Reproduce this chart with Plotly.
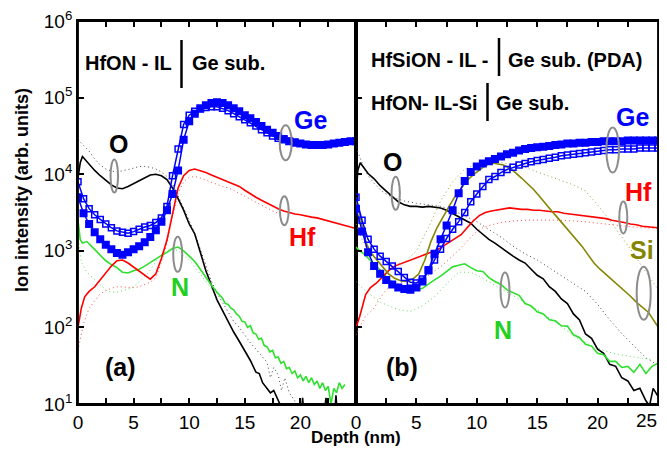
import plotly.graph_objects as go

# ---------------- data : panel (a) HfON - IL | Ge sub. ----------------
DEPTH_A_GE = [0, 0.5, 1, 1.5, 2, 2.5, 3, 3.5, 4, 4.5, 5, 5.5, 6, 6.5, 7, 7.5, 8, 8.5, 9, 9.5,
              10, 10.5, 11, 11.5, 12, 12.5, 13, 13.5, 14, 14.5, 15, 15.5, 16, 16.5, 17, 17.5,
              18, 18.5, 19, 19.5, 20, 20.5, 21, 21.5, 22, 22.5, 23, 23.5, 24, 24.5, 25]
GE_FILLED_A = [5000, 3090, 2240, 1740, 1410, 1200, 1050, 933, 891, 955, 1050, 1150, 1290, 1510,
               1860, 2400, 3390, 5500, 11200, 28200, 49000, 61700, 72400, 79400, 85100, 87100,
               85100, 79400, 72400, 66100, 58900, 53700, 47900, 42700, 38000, 34700, 31600,
               28800, 26900, 25700, 25100, 24500, 24000, 24000, 24000, 24500, 25100, 25700,
               26300, 26900, 26900]
GE_OPEN_A = [7940, 4790, 3550, 2950, 2570, 2240, 2000, 1820, 1740, 1700, 1780, 1910, 2040, 2140,
             2340, 2690, 3800, 9550, 21400, 44700, 58900, 66100, 70800, 74100, 75900, 75900,
             72400, 67600, 61700, 56200, 51300, 46800, 42700, 38000, 34700, 31600, 29500,
             28200, 26900, 26300]

O_SOLID_A_X = [0, 0.2, 0.4, 0.7, 1.0, 1.5, 2, 2.5, 3, 3.5, 4, 4.5, 5, 5.5, 6, 6.5, 7, 7.5, 8,
               8.5, 9, 9.5, 10, 10.5, 11, 11.5, 12, 12.5, 13, 13.5, 14, 14.5, 15, 15.5, 16,
               16.3, 16.6, 17.0, 17.3, 17.6, 18.0, 18.3, 18.6, 19.0, 20.0, 20.2, 20.4, 21.0,
               22.0, 22.3, 22.6, 23.0, 23.2, 23.4, 24.0, 25.0]
O_SOLID_A = [8900, 14100, 17000, 15100, 13200, 11200, 9550, 8320, 7240, 6610, 6460, 6920, 7590,
             8320, 9120, 9770, 10000, 9550, 8510, 6610, 4790, 3390, 2240, 1660, 955, 550, 355,
             229, 166, 120, 87, 66, 50, 37, 26, 25, 19, 16, 14, 15, 11, 9, 6, 5, 5, 12, 5, 5,
             5, 12, 5, 5, 13, 5, 5, 5]
O_DOT_A_X = [0, 0.5, 1, 1.5, 2, 2.5, 3, 3.5, 4, 4.5, 5, 5.5, 6, 6.5, 7, 7.5, 8, 8.5, 9, 9.5,
             10, 10.5, 11, 11.5, 12, 12.5, 13, 13.5, 14, 14.5, 15, 15.5, 16, 16.5, 17, 17.3,
             17.6, 18, 18.3, 18.6, 19, 19.5, 20]
O_DOT_A = [28200, 24000, 20000, 15800, 13200, 11700, 11000, 10700, 11000, 11500, 12000, 12600,
           12600, 12300, 11700, 10700, 9330, 7410, 5250, 3550, 2400, 1700, 1050, 630, 400, 280,
           214, 158, 120, 100, 79, 63, 52, 42, 35, 22, 30, 24, 15, 22, 14, 11, 8]

HF_SOLID_A_X = [0, 0.3, 0.6, 1.0, 1.5, 2, 2.5, 3, 3.5, 4, 4.5, 5, 5.5, 6, 6.5, 7, 7.5, 8, 8.5,
                9, 9.5, 10, 10.5, 11, 11.5, 12, 12.5, 13, 13.5, 14, 14.5, 15, 15.5, 16, 16.5,
                17, 17.5, 18, 18.5, 19, 19.5, 20, 20.5, 21, 21.5, 22, 22.5, 23, 23.5, 24, 24.5, 25]
HF_SOLID_A = [100, 178, 251, 295, 339, 417, 525, 631, 741, 759, 692, 617, 537, 479, 427, 501,
              794, 1380, 3160, 6610, 9550, 11200, 11700, 11200, 10500, 9770, 9120, 8510, 8130,
              7590, 6920, 6170, 5500, 5010, 4570, 4170, 3800, 3550, 3310, 3160, 3020, 2950,
              2820, 2750, 2690, 2570, 2450, 2340, 2240, 2140, 2040, 1950]
HF_DOT_A_X = [0, 0.5, 1, 1.5, 2, 2.5, 3, 3.5, 4, 4.5, 5, 5.5, 6, 6.5, 7, 7.5, 8, 8.5, 9, 9.5,
              10, 10.5, 11, 11.5, 12, 12.5, 13, 13.5, 14, 14.5, 15, 15.5, 16, 16.5, 17, 17.5,
              18, 18.5]
HF_DOT_A = [50, 112, 178, 224, 275, 302, 324, 339, 339, 331, 331, 339, 363, 389, 447, 708, 1260,
            2820, 5620, 7940, 9120, 9330, 8910, 8320, 7760, 7240, 6920, 6610, 6170, 5620, 5130,
            4680, 4270, 3890, 3550, 3310, 3090, 2950]

N_SOLID_A_X = [0, 0.2, 0.4, 0.8, 1.2, 1.6, 2.0, 2.5, 3.0, 3.5, 4.0, 4.5, 5.0, 5.5, 6.0, 6.5,
               7.0, 7.5, 8.0, 8.5, 9.0, 9.5, 10.0, 10.5, 11.0, 11.5, 12.0, 12.5, 13.0, 13.25,
               13.5, 13.75, 14.0, 14.25, 14.5, 14.75, 15.0, 15.25, 15.5, 15.75, 16.0, 16.25,
               16.5, 16.75, 17.0, 17.25, 17.5, 17.75, 18.0, 18.25, 18.5, 18.75, 19.0, 19.25,
               19.5, 19.75, 20.0, 20.25, 20.5, 20.75, 21.0, 21.25, 21.5, 21.75, 22.0, 22.25,
               22.5, 22.75, 23.0, 23.25, 23.5, 23.75, 24.0]
N_SOLID_A = [2510, 1410, 1260, 1320, 1150, 1000, 891, 741, 661, 603, 525, 513, 550, 575, 631,
             708, 776, 871, 955, 1070, 1120, 1000, 851, 724, 575, 447, 355, 288, 240, 205, 200,
             178, 170, 150, 140, 120, 118, 100, 105, 85, 82, 70, 72, 58, 56, 48, 50, 40, 41,
             34, 36, 29, 30, 25, 27, 22, 24, 20, 23, 19, 22, 18, 20, 16, 19, 15, 17, 10, 16,
             14, 19, 16, 18]
N_DOT_A_X = [0, 0.3, 0.8, 1.5, 2.0, 2.5, 3.0, 3.5, 4.0, 4.5, 5.0, 5.5, 6.0, 6.5, 7.0, 7.5, 8.0,
             8.5, 9.0, 10, 11, 12]
N_DOT_A = [1580, 708, 525, 417, 355, 309, 288, 288, 302, 316, 339, 389, 457, 562, 724, 891,
           1000, 1050, 1000, 760, 500, 320]

# ---------------- data : panel (b) HfSiON-IL-|Ge (PDA) and HfON-IL-Si|Ge ----------------
DEPTH_B_GE = DEPTH_A_GE
GE_FILLED_B = [3550, 1780, 955, 631, 501, 417, 363, 331, 316, 309, 331, 398, 562, 912, 1410,
               2140, 3390, 5620, 8130, 10700, 12600, 13800, 14800, 15800, 17000, 18200, 19100,
               20400, 21400, 21900, 22400, 22900, 23400, 24000, 24500, 25100, 25100, 25700,
               25700, 26300, 26300, 26900, 26900, 26900, 26900, 27500, 27500, 27500, 27500,
               27500, 27500]
GE_OPEN_B = [5010, 2510, 1410, 1050, 851, 724, 631, 537, 447, 389, 380, 427, 550, 759, 1050,
             1450, 1910, 2400, 3160, 4370, 5500, 6920, 8510, 9330, 10500, 11500, 12300, 13200,
             13800, 14500, 15100, 15500, 16200, 16600, 17400, 17800, 18200, 18600, 19100,
             19500, 20000, 20400, 20900, 20900, 21400, 21400, 21400, 21900, 21900, 21900, 21900]

O_SOLID_B_X = [0, 0.15, 0.35, 0.7, 1.0, 1.5, 2, 2.5, 3, 3.5, 4, 4.5, 5, 5.5, 6, 6.5, 7, 7.5,
               8, 8.5, 9, 9.5, 10, 10.5, 11, 11.5, 12, 12.5, 13, 13.5, 14, 14.5, 15, 15.5, 16,
               16.5, 17, 17.5, 18, 18.5, 19, 19.5, 20, 20.5, 21, 21.5, 22, 22.5, 23, 23.5, 24,
               24.3, 24.6, 25.0]
O_SOLID_B = [5010, 11200, 14100, 11700, 10200, 8710, 7080, 6030, 5130, 4370, 3980, 3800, 3800,
             3720, 3800, 3720, 3630, 3390, 3090, 2820, 2570, 2290, 1910, 1620, 1410, 1260,
             1100, 955, 851, 759, 692, 575, 479, 430, 340, 295, 235, 205, 150, 125, 82, 72, 52,
             46, 33, 31, 22, 20, 15, 16, 11, 9.5, 16, 12.6]
O_DOT_B_X = [0, 0.3, 0.7, 1.0, 1.5, 2.0, 2.5, 3.0, 3.5, 4.0, 5, 6, 7, 8, 9, 10, 11, 12, 13, 14,
             15, 16, 17, 18, 19, 20, 21, 22, 23, 24, 25]
O_DOT_B = [22400, 16600, 11700, 9550, 7590, 6310, 5500, 5010, 4680, 4470, 4170, 3980, 3800,
           3390, 2880, 2400, 1900, 1510, 1150, 912, 759, 603, 479, 380, 295, 200, 126, 83, 58,
           40, 32]

HF_SOLID_B_X = [0, 0.3, 0.8, 1.2, 1.7, 2.2, 2.7, 3.2, 3.7, 4.2, 4.7, 5.2, 5.7, 6.2, 6.7, 7.2,
                7.7, 8.2, 8.7, 9.2, 9.7, 10.2, 10.7, 11.2, 11.7, 12.2, 12.7, 13.2, 13.7, 14.2,
                14.7, 15.2, 15.7, 16.2, 16.7, 17.2, 17.7, 18.2, 18.7, 19.2, 19.7, 20.2, 20.7,
                21.2, 21.7, 22.2, 22.7, 23.2, 23.7, 24.2, 24.7, 25]
HF_SOLID_B = [100, 138, 269, 331, 380, 457, 550, 631, 676, 724, 794, 851, 891, 955, 1020, 1150,
              1290, 1450, 1620, 2000, 2450, 2880, 3160, 3310, 3390, 3470, 3630, 3550, 3470,
              3470, 3390, 3390, 3310, 3240, 3240, 3090, 3020, 2950, 2880, 2820, 2750, 2690,
              2630, 2510, 2450, 2340, 2240, 2190, 2090, 2040, 2000, 2000]
HF_DOT_B_X = [0, 0.3, 0.8, 1.4, 2, 2.5, 3, 3.5, 4, 4.5, 5, 5.5, 6, 6.5, 7, 7.5, 8, 8.5, 9, 9.5,
              10, 10.5, 11, 11.5, 12, 13, 14, 15, 16, 17, 18, 19, 20, 21, 22, 23, 24, 25]
HF_DOT_B = [79, 102, 141, 170, 240, 309, 355, 380, 398, 407, 417, 437, 479, 537, 617, 724, 851,
            1020, 1230, 1510, 1780, 2000, 2140, 2240, 2340, 2450, 2510, 2510, 2510, 2510, 2450,
            2400, 2290, 2190, 2090, 2040, 2000, 1950]

SI_SOLID_B_X = [0, 0.3, 0.6, 0.9, 1.3, 1.7, 2.2, 2.7, 3.2, 3.7, 4.2, 4.7, 5.2, 5.7, 6.2, 6.7,
                7.2, 7.7, 8.2, 8.7, 9.2, 9.7, 10.2, 10.7, 11.2, 11.7, 12.2, 12.7, 13.2, 13.7,
                14.2, 14.7, 15.2, 15.7, 16.2, 16.7, 17.2, 17.7, 18.2, 18.7, 19.2, 19.7, 20.2,
                20.7, 21.2, 21.7, 22.2, 22.7, 23.2, 23.7, 24.2, 24.7, 25]
SI_SOLID_B = [4470, 3090, 1780, 1200, 912, 759, 617, 501, 437, 407, 398, 427, 501, 759, 1320,
              2000, 2820, 3800, 5130, 6610, 8320, 9770, 11200, 12900, 14100, 13800, 13200,
              12000, 10500, 8910, 7590, 6310, 5130, 4070, 3310, 2690, 2190, 1780, 1450, 1150,
              891, 692, 575, 490, 417, 363, 309, 257, 214, 186, 158, 120, 102]
SI_DOT_B_X = [0, 0.5, 1, 2, 3, 4, 5, 6, 7, 8, 9, 10, 11, 12, 13, 14, 15, 16, 17, 18, 19, 20,
              21, 22, 23, 24, 25]
SI_DOT_B = [2240, 1410, 1000, 759, 661, 708, 1000, 2000, 4470, 7940, 11700, 13500, 14100, 14100,
            13500, 12300, 10700, 9330, 8320, 7240, 6030, 3980, 2510, 1510, 912, 525, 316]

N_SOLID_B_X = [0, 0.3, 0.6, 1.0, 1.4, 2, 2.5, 3, 3.5, 4, 4.5, 5, 5.5, 6, 6.5, 7, 7.5, 8, 8.5,
               9, 9.5, 10, 10.5, 11, 11.5, 12, 12.5, 13, 13.5, 14, 14.5, 15, 15.5, 16, 16.5, 17,
               17.5, 18, 18.5, 19, 19.5, 20, 20.5, 21, 21.5, 22, 22.5, 23, 23.5, 24, 24.5, 25]
N_SOLID_B = [1120, 1000, 933, 794, 692, 562, 457, 389, 347, 316, 302, 309, 324, 363, 417, 468,
             537, 617, 646, 676, 603, 550, 537, 447, 398, 363, 309, 282, 262, 205, 190, 160,
             150, 126, 122, 105, 104, 80, 74, 60, 57, 46, 44, 36, 36, 30, 31, 26, 33, 25, 31, 34]
N_DOT_B_X = [0, 0.4, 1.0, 2.0, 2.9, 3.5, 4.5, 5.5, 6.5, 7.5, 8.5, 9.5, 10.5, 11.5, 12.5, 13.5,
             14.5, 15.5, 16.5, 17.5, 18.5, 19.5, 20.5, 21.5, 22.5, 23.5, 24.5]
N_DOT_B = [398, 339, 282, 214, 186, 170, 162, 191, 251, 372, 525, 525, 437, 355, 288, 234, 191,
           151, 117, 89, 69, 58, 50, 45, 42, 40, 38]

# ---------------- axis ticks ----------------
X_TICKS_A = [0, 5, 10, 15, 20]
X_LABELS_A = ["0", "5", "10", "15", "20"]
X_TICKS_B = [0, 5, 10, 15, 20, 25]
X_LABELS_B = ["0", "5", "10", "15", "20", ""]
X_LAST_LABEL_B = "25"            # drawn separately so that it stays inside the page
Y_TICKS = [10, 100, 1000, 10000, 100000, 1000000]
Y_LABELS = ["10<sup>1</sup>", "10<sup>2</sup>", "10<sup>3</sup>", "10<sup>4</sup>",
            "10<sup>5</sup>", "10<sup>6</sup>"]

# ---------------- styles / layout geometry ----------------
FONT = "Arial, Liberation Sans, sans-serif"
BLUE, RED, GREEN, BLACK, OLIVE = "#0000FF", "#FF0000", "#2EE02E", "#000000", "#858500"
GRAY = "#8C8C8C"
PAGE_W, PAGE_H = 667, 455
OFF = 8                      # the page body margin shifts the figure by 8 px
W, H = PAGE_W - 2 * OFF, PAGE_H - 2 * OFF   # keep the page free of scrollbars
# plot area in page pixels
PL, PR, PT, PB = 78, 658, 21, 404
ML, MT = PL - OFF, PT - OFF
MR, MB = W - (PR - OFF), H - (PB - OFF)
SPLIT = (356 - PL) / (PR - PL)


def px_x(p):
    return (p - PL) / (PR - PL)


def px_y(p):
    return (PB - p) / (PB - PT)


fig = go.Figure()


def line(x, y, color, ax, dotted=False, width=1.6):
    fig.add_trace(go.Scatter(
        x=x, y=y, mode="lines", xaxis=ax[0], yaxis=ax[1],
        line=dict(color=color, width=1.0 if dotted else width,
                  dash="1px,3px" if dotted else "solid"),
        showlegend=False, hoverinfo="skip"))


def squares(x, y, ax, filled):
    fig.add_trace(go.Scatter(
        x=x, y=y, mode="lines+markers", xaxis=ax[0], yaxis=ax[1],
        line=dict(color=BLUE, width=1.5),
        marker=dict(symbol="square" if filled else "square-open", size=6.5 if filled else 6,
                    color=BLUE, line=dict(color=BLUE, width=1.5)),
        showlegend=False, hoverinfo="skip"))


A = ("x", "y")
Bx = ("x2", "y2")

# panel (a)
line(O_DOT_A_X, O_DOT_A, "#444444", A, dotted=True)
line(HF_DOT_A_X, HF_DOT_A, "#FF5050", A, dotted=True)
line(N_DOT_A_X, N_DOT_A, "#60DD60", A, dotted=True)
line(O_SOLID_A_X, O_SOLID_A, BLACK, A)
line(N_SOLID_A_X, N_SOLID_A, GREEN, A)
line(HF_SOLID_A_X, HF_SOLID_A, RED, A)
squares(DEPTH_A_GE, GE_FILLED_A, A, True)
squares(DEPTH_A_GE[:len(GE_OPEN_A)], GE_OPEN_A, A, False)

# panel (b)
line(O_DOT_B_X, O_DOT_B, "#444444", Bx, dotted=True)
line(HF_DOT_B_X, HF_DOT_B, "#FF5050", Bx, dotted=True)
line(SI_DOT_B_X, SI_DOT_B, "#A0A040", Bx, dotted=True)
line(N_DOT_B_X, N_DOT_B, "#60DD60", Bx, dotted=True)
line(O_SOLID_B_X, O_SOLID_B, BLACK, Bx)
line(N_SOLID_B_X, N_SOLID_B, GREEN, Bx)
line(HF_SOLID_B_X, HF_SOLID_B, RED, Bx)
line(SI_SOLID_B_X, SI_SOLID_B, OLIVE, Bx)
squares(DEPTH_B_GE, GE_FILLED_B, Bx, True)
squares(DEPTH_B_GE, GE_OPEN_B, Bx, False)

tickfont = dict(family=FONT, size=19, color="black")
common_x = dict(range=[0, 25], ticks="inside", ticklen=6, tickwidth=1.5, tickcolor="black",
                minor=dict(ticks="inside", dtick=2.5, tick0=0, ticklen=6, tickwidth=1.5,
                           tickcolor="black", showgrid=False),
                showline=True, linewidth=1.8, linecolor="black", mirror="ticks",
                showgrid=False, zeroline=False, tickfont=tickfont, tickmode="array",
                automargin=False, ticklabeloverflow="allow")
common_y = dict(type="log", range=[1, 6], domain=[0, 1], ticks="inside", ticklen=6,
                tickwidth=1.5, tickcolor="black", showline=True, linewidth=1.8,
                linecolor="black", mirror=True, showgrid=False, zeroline=False,
                tickfont=tickfont, tickmode="array", tickvals=Y_TICKS, ticktext=Y_LABELS,
                automargin=False, ticklabeloverflow="allow")

fig.update_layout(
    width=W, height=H, margin=dict(l=ML, r=MR, t=MT, b=MB, autoexpand=False),
    paper_bgcolor="white", plot_bgcolor="white",
    xaxis=dict(common_x, domain=[0, SPLIT], anchor="y", tickvals=X_TICKS_A, ticktext=X_LABELS_A),
    xaxis2=dict(common_x, domain=[SPLIT, 1], anchor="y2", tickvals=X_TICKS_B, ticktext=X_LABELS_B),
    yaxis=dict(common_y, anchor="x"),
    yaxis2=dict(common_y, anchor="x2", matches="y", showticklabels=False),
    font=dict(family=FONT, color="black"),
)

ann = []


def text(s, px, py, size, color="black", anchor="center", angle=0, bold=True):
    ann.append(dict(text=("<b>" + s + "</b>") if bold else s, x=px_x(px), y=px_y(py),
                    xref="paper", yref="paper", xanchor=anchor, yanchor="middle",
                    showarrow=False, textangle=angle,
                    font=dict(family=FONT, size=size, color=color)))


# last x tick label of panel (b), right-aligned at the page edge
text(X_LAST_LABEL_B, 659, 420, 19, anchor="right", bold=False)
# sample stacks
text("HfON - IL", 83, 63, 20, anchor="left")
text("Ge sub.", 190, 63, 20, anchor="left")
text("HfSiON - IL -", 369, 60, 20, anchor="left")
text("Ge sub. (PDA)", 506, 60, 20, anchor="left")
text("HfON- IL-Si", 369, 103, 20, anchor="left")
text("Ge sub.", 494, 103, 20, anchor="left")
# element labels
text("O", 118, 144, 25)
text("Ge", 310, 120, 25, BLUE)
text("Hf", 302, 237, 25, RED)
text("N", 180, 287, 25, "#22D022")
text("(a)", 120, 367, 25)
text("O", 392, 162, 25)
text("Ge", 632, 117, 25, BLUE)
text("Hf", 638, 192, 25, RED)
text("Si", 642, 250, 25, OLIVE)
text("N", 503, 330, 25, "#22D022")
text("(b)", 402, 367, 25)
# axis titles
text("Ion intensity (arb. units)", 22, 190, 18, angle=-90)
text("Depth (nm)", 356, 437, 17)

shapes = []
# plot frame and separator bars in the stack labels
shapes.append(dict(type="rect", xref="paper", yref="paper", x0=0, x1=1, y0=0, y1=1,
                   line=dict(color="black", width=1.8)))
for bx, by0, by1 in [(181.5, 40, 88), (499, 38, 76), (487.5, 83, 121)]:
    shapes.append(dict(type="line", xref="paper", yref="paper", x0=px_x(bx), x1=px_x(bx),
                       y0=px_y(by1), y1=px_y(by0), line=dict(color="black", width=2.5)))
# grey ellipses grouping the two samples' curves
for cx, cy, ew, eh in [(114.3, 176, 7.5, 33), (285.7, 142.7, 12, 35), (284.3, 210.7, 8.7, 29),
                       (177.7, 254.3, 9, 35), (395.7, 193.3, 8.3, 33), (612.7, 150, 12.7, 45),
                       (623.3, 217.5, 8, 32), (643.7, 293.3, 14, 53), (505, 290, 9, 35)]:
    shapes.append(dict(type="circle", xref="paper", yref="paper",
                       x0=px_x(cx - ew / 2), x1=px_x(cx + ew / 2),
                       y0=px_y(cy + eh / 2), y1=px_y(cy - eh / 2),
                       line=dict(color=GRAY, width=2)))

fig.update_layout(annotations=ann, shapes=shapes)
fig.write_html("out.html")
